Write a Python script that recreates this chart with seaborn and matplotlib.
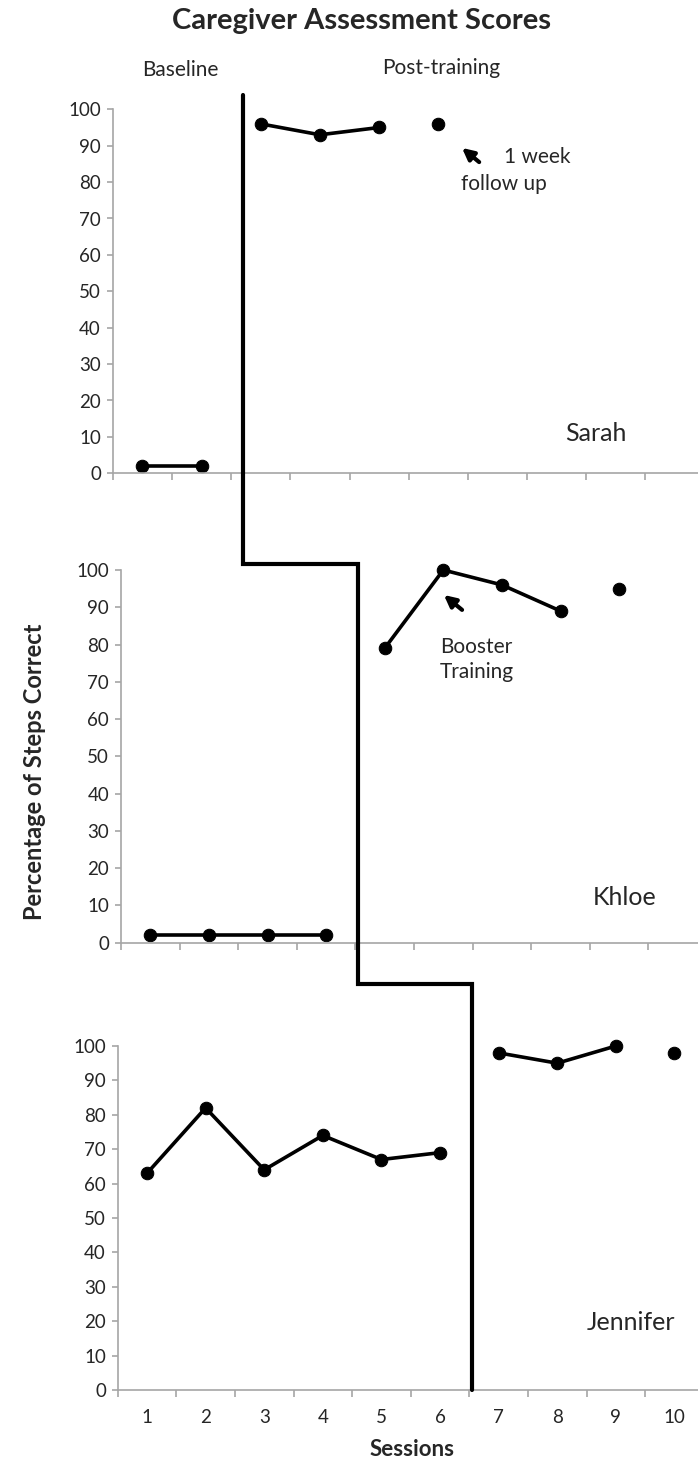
import numpy as np
import pandas as pd
import matplotlib
matplotlib.use("Agg")
import matplotlib.pyplot as plt
from matplotlib.lines import Line2D
import seaborn as sns

# --- data ---
sarah_sessions = [1, 2, 3, 4, 5, 6]
sarah_scores = [2, 2, 96, 93, 95, 96]
sarah_phase = ["Baseline", "Baseline", "Post", "Post", "Post", "Follow-up"]

khloe_sessions = [1, 2, 3, 4, 5, 6, 7, 8, 9]
khloe_scores = [2, 2, 2, 2, 79, 100, 96, 89, 95]
khloe_phase = ["Baseline"] * 4 + ["Post"] * 4 + ["Follow-up"]

jennifer_sessions = [1, 2, 3, 4, 5, 6, 7, 8, 9, 10]
jennifer_scores = [63, 82, 64, 74, 67, 69, 98, 95, 100, 98]
jennifer_phase = ["Baseline"] * 6 + ["Post"] * 3 + ["Follow-up"]

session_labels = [str(i) for i in range(1, 11)]
y_ticks = list(range(0, 101, 10))
# phase change (between sessions) for each caregiver
phase_change = [2.7, 4.55, 6.55]

sns.set_theme(style="white")
plt.rcParams["font.family"] = ["Lato", "DejaVu Sans"]

GREY = "#a6a6a6"
W, H = 698, 1464
fig = plt.figure(figsize=(W / 100, H / 100), dpi=100)


def px_axes(left, bottom, right, top):
    return fig.add_axes([left / W, 1 - bottom / H, (right - left) / W, (bottom - top) / H])


ax_s = px_axes(112.7, 473.3, 112.7 + 592, 109.3)
ax_k = px_axes(121.0, 942.7, 121.0 + 586, 570.0)
ax_j = px_axes(117.7, 1390.0, 117.7 + 586, 1046.0)

panels = [
    (ax_s, sarah_sessions, sarah_scores, sarah_phase, "Sarah", (0.816, 0.108)),
    (ax_k, khloe_sessions, khloe_scores, khloe_phase, "Khloe", (0.86, 0.121)),
    (ax_j, jennifer_sessions, jennifer_scores, jennifer_phase, "Jennifer", (0.876, 0.196)),
]

for ax, xs, ys, ph, name, pos in panels:
    df = pd.DataFrame({"session": xs, "score": ys, "phase": ph})
    sns.lineplot(data=df, x="session", y="score", units="phase", estimator=None,
                 color="black", marker="o", markersize=9, markeredgecolor="black",
                 linewidth=2.6, legend=False, ax=ax, clip_on=False)
    ax.set_xlim(0.5, 10.5)
    ax.set_ylim(0, 100)
    ax.set_yticks(y_ticks)
    ax.set_xticks(np.arange(0.5, 11, 1))
    ax.set_xticklabels([])
    ax.set_xlabel("")
    ax.set_ylabel("")
    for s in ["top", "right"]:
        ax.spines[s].set_visible(False)
    for s in ["left", "bottom"]:
        ax.spines[s].set_color(GREY)
        ax.spines[s].set_linewidth(1.2)
    ax.tick_params(axis="y", direction="out", length=4, width=1.2, color=GREY,
                   labelsize=13.5, pad=4.5, left=True)
    ax.tick_params(axis="x", direction="out", length=5, width=1.2, color=GREY,
                   bottom=True)
    ax.text(pos[0], pos[1], name, transform=ax.transAxes, ha="center", va="center",
            fontsize=18)
    ax.set_facecolor("none")

# session labels only on the bottom panel
ax_j.set_xticks(range(1, 11), minor=True)
ax_j.set_xticklabels(session_labels, minor=True)
ax_j.tick_params(axis="x", which="minor", length=0, labelsize=13.5, pad=14)

# annotations
arrow = dict(arrowstyle="-|>", lw=3, color="black", mutation_scale=17,
             shrinkA=0, shrinkB=0)
ax_s.annotate("", xy=(6.40, 89.4), xytext=(6.69, 85.5), arrowprops=arrow)
ax_s.text(7.11, 86.9, "1 week", ha="left", va="center", fontsize=15)
ax_s.text(6.38, 79.5, "follow up", ha="left", va="center", fontsize=15)

ax_k.annotate("", xy=(6.01, 93.3), xytext=(6.32, 89.3), arrowprops=arrow)
ax_k.text(5.94, 76.0, "Booster\nTraining", ha="left", va="center", fontsize=15,
          linespacing=1.3)

# phase change staircase line across the panels
p0 = ax_s.transData.transform((phase_change[0], 104))
y1 = ax_k.transData.transform((0, 101.5))[1]
x2 = ax_k.transData.transform((phase_change[1], 0))[0]
y3 = ax_j.transData.transform((0, 118))[1]
x4 = ax_j.transData.transform((phase_change[2], 0))[0]
y5 = ax_j.transData.transform((0, 0))[1]
pts = np.array([[p0[0], p0[1]], [p0[0], y1], [x2, y1], [x2, y3], [x4, y3], [x4, y5]])
pts_fig = fig.transFigure.inverted().transform(pts)
fig.add_artist(Line2D(pts_fig[:, 0], pts_fig[:, 1], color="black", lw=3,
                      solid_joinstyle="miter", transform=fig.transFigure))

# titles and labels
fig.text(361.5 / W, 1 - 21 / H, "Caregiver Assessment Scores", ha="center", va="center",
         fontsize=21, fontweight="bold")
fig.text(180 / W, 1 - 70 / H, "Baseline", ha="center", va="center", fontsize=15)
fig.text(441 / W, 1 - 68 / H, "Post-training", ha="center", va="center", fontsize=15)
fig.text(35 / W, 1 - 772 / H, "Percentage of Steps Correct", ha="center", va="center",
         rotation=90, fontsize=17, fontweight="bold")
fig.text(412 / W, 1 - 1450 / H, "Sessions", ha="center", va="center", fontsize=16,
         fontweight="bold")

fig.savefig("out.png", dpi=100)
